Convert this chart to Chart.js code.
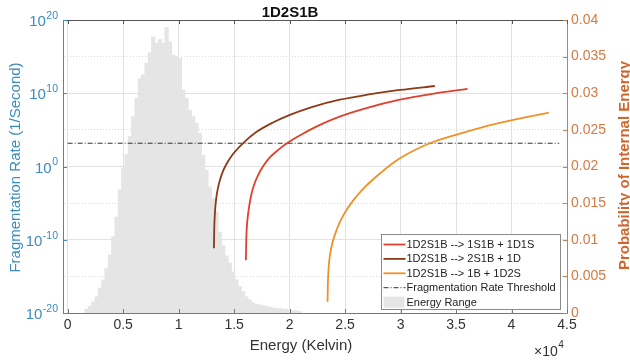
<!DOCTYPE html>
<html>
<head>
<meta charset="utf-8">
<script src="https://cdn.jsdelivr.net/npm/chart.js@4.4.1/dist/chart.umd.min.js"></script>
<style>
html, body { margin: 0; padding: 0; background: #fff; }
#wrap { position: relative; width: 630px; height: 362px; }
</style>
</head>
<body>
<div id="wrap"><canvas id="fragChart" width="630" height="362"></canvas></div>
<script>
// =========================
// DATA (energy in units of 1e4 K)
// =========================
const energyBins = [
    0.171, 0.201, 0.231, 0.261, 0.291, 0.321, 0.351, 0.381, 0.411, 0.441,
    0.471, 0.501, 0.531, 0.561, 0.591, 0.621, 0.651, 0.681, 0.711, 0.741,
    0.771, 0.801, 0.831, 0.861, 0.891, 0.921, 0.951, 0.981, 1.011, 1.041,
    1.071, 1.101, 1.131, 1.161, 1.191, 1.221, 1.251, 1.281, 1.311, 1.341,
    1.371, 1.401, 1.431, 1.461, 1.491, 1.521, 1.551, 1.581, 1.611, 1.641,
    1.671, 1.701, 1.731, 1.761, 1.791, 1.821, 1.851, 1.881, 1.911, 1.941,
    1.971, 2.001, 2.031, 2.061, 2.091
];
const energyProb = [
    0.0005, 0.0009, 0.0015, 0.0022, 0.0034, 0.0045, 0.0061, 0.0079, 0.0104, 0.0131,
    0.0168, 0.0198, 0.0216, 0.0241, 0.0268, 0.0293, 0.0320, 0.0325, 0.0341, 0.0355,
    0.0377, 0.0368, 0.0373, 0.0368, 0.0390, 0.0370, 0.0352, 0.0350, 0.0348, 0.0304,
    0.0293, 0.0277, 0.0268, 0.0259, 0.0245, 0.0215, 0.0195, 0.0172, 0.0156, 0.0138,
    0.0110, 0.0092, 0.0078, 0.0068, 0.0056, 0.0045, 0.0036, 0.0029, 0.0022, 0.0018,
    0.0014, 0.0012, 0.0011, 0.0010, 0.0009, 0.0008, 0.0007, 0.0006, 0.0006, 0.0005,
    0.0005, 0.0004, 0.0003, 0.0003, 0.0002
];

// 1D2S1B --> 1S1B + 1D1S
const path1Energy = [1.606, 1.610, 1.616, 1.625, 1.638, 1.656, 1.680, 1.715, 1.760, 1.820,
                     1.900, 1.979, 2.100, 2.250, 2.450, 2.700, 2.994, 3.300, 3.604];
const path1Rate   = [1.6e-13, 1.6e-10, 1.0e-8, 2.5e-7, 6.3e-6, 1.6e-4, 3.2e-3, 6.3e-2, 1.0, 16,
                     2.0e2, 1.6e3, 2.0e4, 3.2e5, 6.3e6, 1.0e8, 1.3e9, 8.9e9, 4.0e10];

// 1D2S1B --> 2S1B + 1D
const path2Energy = [1.318, 1.321, 1.326, 1.334, 1.346, 1.364, 1.390, 1.430, 1.490, 1.582,
                     1.700, 1.850, 2.003, 2.200, 2.453, 2.700, 2.994, 3.309];
const path2Rate   = [6.8e-12, 3.2e-9, 2.5e-7, 1.0e-5, 2.5e-4, 5.0e-3, 0.1, 2.0, 50, 1.6e3,
                     5.0e4, 1.0e6, 1.1e7, 1.3e8, 1.3e9, 6.3e9, 2.8e10, 9.8e10];

// 1D2S1B --> 1B + 1D2S
const path3Energy = [2.342, 2.345, 2.352, 2.365, 2.390, 2.430, 2.490, 2.570, 2.680, 2.814,
                     2.994, 3.264, 3.550, 3.865, 4.336];
const path3Rate   = [3.5e-19, 1.0e-16, 1.6e-14, 1.0e-12, 6.3e-11, 4.0e-9, 3.2e-7, 2.0e-5, 1.6e-3, 0.11,
                     13, 1.5e3, 3.5e4, 7.1e5, 2.2e7];

const thresholdEnergy = [0, 4.43];
const thresholdRate   = [1.5e3, 1.5e3];

const energyTicks = [0, 0.5, 1, 1.5, 2, 2.5, 3, 3.5, 4, 4.5];
const rateTickExp = [-20, -15, -10, -5, 0, 5, 10, 15, 20];
const rateLabelExp = [-20, -10, 0, 10, 20];
const probTicks = [0, 0.005, 0.01, 0.015, 0.02, 0.025, 0.03, 0.035, 0.04];

// =========================
// STYLE
// =========================
const FONT = "'Liberation Sans', Arial, Helvetica, sans-serif";
const BLUE = '#3b8cc0';
const ORANGE_TICK = '#d57a42';
const ORANGE_LABEL = '#d0652c';
const HIST_FILL = '#e5e5e5';

function pts(xs, ys) {
    return xs.map((x, i) => ({ x: x, y: ys[i] }));
}

// =========================
// DECORATION PLUGIN
// =========================
const decorPlugin = {
    id: 'decor',
    afterDraw(chart) {
        const ctx = chart.ctx;
        const area = chart.chartArea;
        const xs = chart.scales.x;
        const ys = chart.scales.y;
        const ps = chart.scales.y1;

        ctx.save();

        // top frame
        ctx.strokeStyle = '#555';
        ctx.lineWidth = 1;
        ctx.beginPath();
        ctx.moveTo(area.left, area.top + 0.5);
        ctx.lineTo(area.right, area.top + 0.5);
        ctx.stroke();

        // inward ticks (x, top + bottom)
        energyTicks.forEach(v => {
            const px = Math.round(xs.getPixelForValue(v)) + 0.5;
            ctx.strokeStyle = '#555';
            ctx.beginPath();
            ctx.moveTo(px, area.top);
            ctx.lineTo(px, area.top + 4);
            ctx.stroke();
            ctx.strokeStyle = '#777';
            ctx.beginPath();
            ctx.moveTo(px, area.bottom);
            ctx.lineTo(px, area.bottom - 4);
            ctx.stroke();
        });

        // inward ticks (right axis)
        ctx.strokeStyle = ORANGE_TICK;
        probTicks.forEach(v => {
            const py = Math.round(ps.getPixelForValue(v)) + 0.5;
            ctx.beginPath();
            ctx.moveTo(area.right, py);
            ctx.lineTo(area.right - 4, py);
            ctx.stroke();
        });

        // inward ticks + labels (left log axis)
        ctx.strokeStyle = BLUE;
        ctx.fillStyle = BLUE;
        rateLabelExp.forEach(e => {
            const py = ys.getPixelForValue(Math.pow(10, e));
            ctx.beginPath();
            ctx.moveTo(area.left, Math.round(py) + 0.5);
            ctx.lineTo(area.left + 4, Math.round(py) + 0.5);
            ctx.stroke();

            const expText = e < 0 ? '-' + Math.abs(e) : String(e);
            const rightX = area.left - 5;
            ctx.textAlign = 'right';
            ctx.textBaseline = 'middle';
            ctx.font = '10.5px ' + FONT;
            ctx.fillText(expText, rightX, py - 4);
            const w = ctx.measureText(expText).width;
            ctx.font = '15px ' + FONT;
            ctx.fillText('10', rightX - w - 0.5, py + 2);
        });

        // chart title
        ctx.fillStyle = '#111';
        ctx.font = 'bold 15px ' + FONT;
        ctx.textAlign = 'center';
        ctx.textBaseline = 'middle';
        ctx.fillText('1D2S1B', 290, 12.5);

        // x title and exponent
        ctx.fillStyle = '#333';
        ctx.font = '15px ' + FONT;
        ctx.textBaseline = 'alphabetic';
        ctx.fillText('Energy (Kelvin)', 301, 350);
        ctx.textAlign = 'left';
        ctx.font = '14px ' + FONT;
        ctx.fillText('\u00d710', 534, 356);
        const mw = ctx.measureText('\u00d710').width;
        ctx.font = '10px ' + FONT;
        ctx.fillText('4', 534 + mw + 0.5, 348);

        // left title
        ctx.save();
        ctx.translate(19.5, (area.top + area.bottom) / 2 + 1);
        ctx.rotate(-Math.PI / 2);
        ctx.fillStyle = BLUE;
        ctx.font = '15px ' + FONT;
        ctx.textAlign = 'center';
        ctx.textBaseline = 'alphabetic';
        ctx.fillText('Fragmentation Rate (1/Second)', 0, 0);
        ctx.restore();

        // right title
        ctx.save();
        ctx.translate(629, (area.top + area.bottom) / 2 - 1);
        ctx.rotate(-Math.PI / 2);
        ctx.fillStyle = ORANGE_LABEL;
        ctx.font = 'bold 15px ' + FONT;
        ctx.textAlign = 'center';
        ctx.textBaseline = 'alphabetic';
        ctx.fillText('Probability of Internal Energy', 0, 0);
        ctx.restore();

        // legend
        const boxW = 179, boxH = 75;
        const bx = Math.round(area.right - 7 - boxW) + 0.5;
        const by = Math.round(area.bottom - 4 - boxH) + 0.5;
        ctx.fillStyle = '#fff';
        ctx.fillRect(bx, by, boxW, boxH);
        ctx.strokeStyle = '#8a8a8a';
        ctx.lineWidth = 1;
        ctx.strokeRect(bx, by, boxW, boxH);

        ctx.font = '11px ' + FONT;
        ctx.textAlign = 'left';
        ctx.textBaseline = 'middle';
        chart.data.datasets.forEach((ds, i) => {
            const ry = by + 10 + i * 14.4;
            if (ds.type === 'bar') {
                ctx.fillStyle = HIST_FILL;
                ctx.fillRect(bx + 2, ry - 5.5, 21, 11);
            } else {
                ctx.strokeStyle = ds.borderColor;
                ctx.lineWidth = ds.borderWidth;
                ctx.setLineDash(ds.borderDash || []);
                ctx.beginPath();
                ctx.moveTo(bx + 2, ry);
                ctx.lineTo(bx + 24, ry);
                ctx.stroke();
                ctx.setLineDash([]);
            }
            ctx.fillStyle = '#222';
            ctx.fillText(ds.label, bx + 25, ry + 0.5);
        });

        ctx.restore();
    }
};

// =========================
// CHART
// =========================
const ctx = document.getElementById('fragChart').getContext('2d');

new Chart(ctx, {
    type: 'line',
    data: {
        datasets: [
            {
                label: '1D2S1B --> 1S1B + 1D1S',
                data: pts(path1Energy, path1Rate),
                borderColor: '#e2402c',
                borderWidth: 1.8,
                pointRadius: 0,
                cubicInterpolationMode: 'monotone',
                yAxisID: 'y',
                order: 1
            },
            {
                label: '1D2S1B --> 2S1B + 1D',
                data: pts(path2Energy, path2Rate),
                borderColor: '#8c3b17',
                borderWidth: 1.8,
                pointRadius: 0,
                cubicInterpolationMode: 'monotone',
                yAxisID: 'y',
                order: 1
            },
            {
                label: '1D2S1B --> 1B + 1D2S',
                data: pts(path3Energy, path3Rate),
                borderColor: '#ee9225',
                borderWidth: 1.8,
                pointRadius: 0,
                cubicInterpolationMode: 'monotone',
                yAxisID: 'y',
                order: 1
            },
            {
                label: 'Fragmentation Rate Threshold',
                data: pts(thresholdEnergy, thresholdRate),
                borderColor: '#333',
                borderWidth: 1,
                borderDash: [5, 2, 1, 2],
                pointRadius: 0,
                yAxisID: 'y',
                order: 2
            },
            {
                type: 'bar',
                label: 'Energy Range',
                data: pts(energyBins, energyProb),
                backgroundColor: HIST_FILL,
                borderWidth: 0,
                barPercentage: 1,
                categoryPercentage: 1,
                inflateAmount: 0.45,
                yAxisID: 'y1',
                order: 10
            }
        ]
    },
    options: {
        responsive: false,
        devicePixelRatio: 1,
        animation: false,
        events: [],
        layout: { padding: { top: 20, left: 0, right: 0, bottom: 0 } },
        plugins: {
            legend: { display: false },
            tooltip: { enabled: false },
            title: { display: false }
        },
        scales: {
            x: {
                type: 'linear',
                min: -0.042,
                max: 4.5,
                offset: false,
                afterBuildTicks: scale => {
                    scale.ticks = energyTicks.map(v => ({ value: v }));
                },
                afterFit: scale => { scale.height = 49; },
                ticks: {
                    color: '#333',
                    font: { family: FONT, size: 14 },
                    padding: 4,
                    maxRotation: 0,
                    callback: v => String(v)
                },
                grid: { color: '#e2e2e2', drawTicks: false, offset: false },
                border: { color: '#777' }
            },
            y: {
                type: 'logarithmic',
                position: 'left',
                min: 1e-20,
                max: 1e20,
                afterBuildTicks: scale => {
                    scale.ticks = rateTickExp.map(e => ({ value: Math.pow(10, e) }));
                },
                afterFit: scale => { scale.width = 63; },
                ticks: { display: false },
                grid: {
                    drawTicks: false,
                    color: c => {
                        const e = Math.round(Math.log10(c.tick.value));
                        return e % 10 === 0 ? '#e2e2e2' : '#dadada';
                    }
                },
                border: {
                    color: BLUE,
                    dash: c => {
                        if (!c.tick) return [];
                        const e = Math.round(Math.log10(c.tick.value));
                        return e % 10 === 0 ? [] : [1, 2];
                    }
                }
            },
            y1: {
                type: 'linear',
                position: 'right',
                min: 0,
                max: 0.04,
                afterBuildTicks: scale => {
                    scale.ticks = probTicks.map(v => ({ value: v }));
                },
                afterFit: scale => { scale.width = 63; },
                ticks: {
                    color: ORANGE_TICK,
                    font: { family: FONT, size: 14 },
                    padding: 4,
                    callback: v => String(+v.toFixed(3))
                },
                grid: { drawOnChartArea: false, drawTicks: false },
                border: { color: ORANGE_TICK }
            }
        }
    },
    plugins: [decorPlugin]
});
</script>
</body>
</html>
